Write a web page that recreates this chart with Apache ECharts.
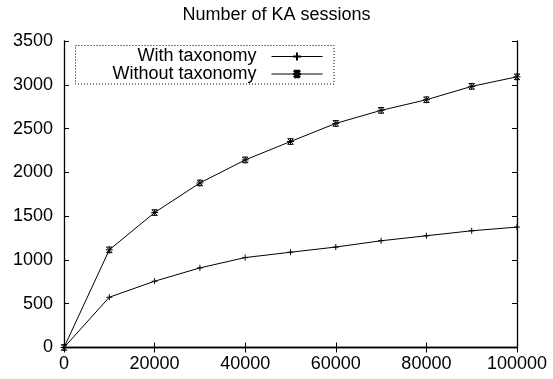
<!DOCTYPE html>
<html><head><meta charset="utf-8">
<script src="https://cdn.jsdelivr.net/npm/echarts@6/dist/echarts.min.js"></script>
<style>html,body{margin:0;padding:0;background:#fff}#c{width:553px;height:379px}</style>
</head><body><div id="c"></div>
<script>
const titleText = 'Number of KA sessions';
const xValues = [0, 10000, 20000, 30000, 40000, 50000, 60000, 70000, 80000, 90000, 100000];
const withTaxonomy = [0, 574, 757, 909, 1027, 1088, 1147, 1219, 1276, 1333, 1375];
const withoutTaxonomy = [0, 1115, 1541, 1879, 2142, 2352, 2559, 2708, 2829, 2982, 3091];
const seriesNames = ['With taxonomy', 'Without taxonomy'];

const FONT = '"Liberation Sans", Arial, sans-serif';
const chart = echarts.init(document.getElementById('c'));
const pair = ys => xValues.map((x, i) => [x, ys[i]]);
const plusPath = 'path://M0,5L10,5M5,0L5,10';
const starPath = 'path://M0,5L10,5M5,0L5,10M1,1L9,9M9,1L1,9M1,1L9,1M1,9L9,9';

const xBase = {type:'value', min:0, max:100000, interval:20000, splitLine:{show:false},
  axisLine:{lineStyle:{color:'#000', width:1.3}}, axisTick:{inside:true, length:5, lineStyle:{color:'#000'}}};
const yBase = {type:'value', min:0, max:3500, interval:500, splitLine:{show:false},
  axisLine:{onZero:false, lineStyle:{color:'#000', width:1.3}}, axisTick:{inside:true, length:5, lineStyle:{color:'#000'}}};

const legendCommon = {orient:'vertical', right:230, align:'right', padding:0, itemWidth:51, itemHeight:10,
  lineStyle:{width:1},
  textStyle:{fontFamily:FONT, fontSize:18, color:'#000'}, formatter: n => n + '  '};

chart.setOption({
  animation:false,
  title:{text:titleText, left:'center', top:1, textStyle:{fontFamily:FONT, fontSize:18, fontWeight:'normal', color:'#000'}},
  grid:{left:64, right:36, top:41, bottom:31.5},
  graphic:[{type:'rect', shape:{x:75.5, y:45.5, width:258.5, height:38.5}, style:{fill:'none', stroke:'#000', lineWidth:1, lineDash:[1,2]}, z:10}],
  legend:[
    Object.assign({top:47.5, data:[seriesNames[0]]}, legendCommon),
    Object.assign({top:65, data:[seriesNames[1]]}, legendCommon)
  ],
  xAxis:[
    Object.assign({position:'bottom', axisLabel:{fontFamily:FONT, fontSize:18, color:'#000', margin:8, formatter: v => String(v)}}, xBase),
    Object.assign({position:'top', axisLabel:{show:false}}, xBase)
  ],
  yAxis:[
    Object.assign({position:'left', axisLabel:{fontFamily:FONT, fontSize:18, color:'#000', margin:11, formatter: v => String(v)}}, yBase),
    Object.assign({position:'right', axisLabel:{show:false}}, yBase)
  ],
  series:[
    {name:seriesNames[0], type:'line', data:pair(withTaxonomy), symbol:plusPath, symbolSize:6,
     lineStyle:{color:'#000', width:1}, itemStyle:{color:'#000', borderColor:'#000', borderWidth:1}},
    {name:seriesNames[1], type:'line', data:pair(withoutTaxonomy), symbol:starPath, symbolSize:7,
     lineStyle:{color:'#000', width:1}, itemStyle:{color:'#000', borderColor:'#000', borderWidth:1}}
  ]
});
</script></body></html>
